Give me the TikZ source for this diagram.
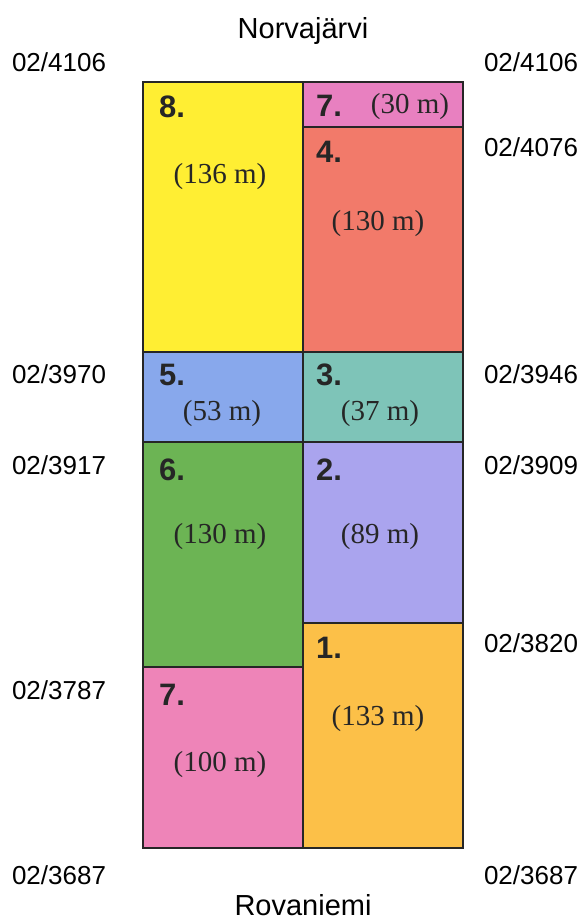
\documentclass[tikz,border=0pt]{standalone}
\usepackage{fontspec}
\setmainfont{Liberation Serif}
\setsansfont{Liberation Sans}
\usepackage{tikz}
\usepackage{xcolor}

\definecolor{blkyellow}{HTML}{FFEE33}
\definecolor{blkpink}{HTML}{E880C0}
\definecolor{blksalmon}{HTML}{F27A6A}
\definecolor{blkblue}{HTML}{88A8EC}
\definecolor{blkteal}{HTML}{7EC4B8}
\definecolor{blkgreen}{HTML}{6CB454}
\definecolor{blklilac}{HTML}{AAA4EE}
\definecolor{blkorange}{HTML}{FCC048}
\definecolor{blkrose}{HTML}{EE84B8}

\begin{document}
\begin{tikzpicture}[x=1pt, y=-1pt,
  block/.style={draw=black!85, line width=1.6pt},
  num/.style={font=\sffamily\bfseries\fontsize{31}{31}\selectfont, anchor=west, inner sep=0pt, text=black!85},
  len/.style={font=\fontsize{29}{29}\selectfont, inner sep=0pt, text=black!85},
  km/.style={font=\sffamily\fontsize{26}{26}\selectfont, inner sep=0pt},
  place/.style={font=\sffamily\fontsize{29}{29}\selectfont, inner sep=0pt}]
  \useasboundingbox (0,0) rectangle (583,921);

  % left column, top to bottom
  \foreach \top/\bot/\col in {82/352/blkyellow, 352/442/blkblue, 442/667/blkgreen, 667/848/blkrose} {
    \draw[block, fill=\col] (143,\top) rectangle (303,\bot);
  }
  % right column, top to bottom
  \foreach \top/\bot/\col in {82/127/blkpink, 127/352/blksalmon, 352/442/blkteal, 442/623/blklilac, 623/848/blkorange} {
    \draw[block, fill=\col] (303,\top) rectangle (463,\bot);
  }

  % block numbers and lengths
  \node[num] (n8) at (159,107) {8.};
  \node[len] (l8) at (220,177) {(136 m)};
  \node[num] (n7a) at (316,106) {7.};
  \node[len] (l7a) at (410,107) {(30 m)};
  \node[num] (n4) at (316,152) {4.};
  \node[len] (l4) at (378,224) {(130 m)};
  \node[num] (n5) at (159,375) {5.};
  \node[len] (l5) at (222,414) {(53 m)};
  \node[num] (n3) at (316,375) {3.};
  \node[len] (l3) at (380,414) {(37 m)};
  \node[num] (n6) at (159,470) {6.};
  \node[len] (l6) at (220,537) {(130 m)};
  \node[num] (n2) at (316,470) {2.};
  \node[len] (l2) at (380,537) {(89 m)};
  \node[num] (n1) at (316,648) {1.};
  \node[len] (l1) at (378,719) {(133 m)};
  \node[num] (n7b) at (159,695) {7.};
  \node[len] (l7b) at (220,765) {(100 m)};

  % place names
  \node[place] (north) at (303,31) {Norvajärvi};
  \node[place] (south) at (303,905) {Rovaniemi};

  % chainages
  \node[km] (ka) at (59,62) {02/4106};
  \node[km] (kb) at (59,374) {02/3970};
  \node[km] (kc) at (59,465) {02/3917};
  \node[km] (kd) at (59,690) {02/3787};
  \node[km] (ke) at (59,875) {02/3687};
  \node[km] (kf) at (531,62) {02/4106};
  \node[km] (kg) at (531,147) {02/4076};
  \node[km] (kh) at (531,374) {02/3946};
  \node[km] (ki) at (531,465) {02/3909};
  \node[km] (kj) at (531,643) {02/3820};
  \node[km] (kk) at (531,875) {02/3687};
\end{tikzpicture}
\end{document}
